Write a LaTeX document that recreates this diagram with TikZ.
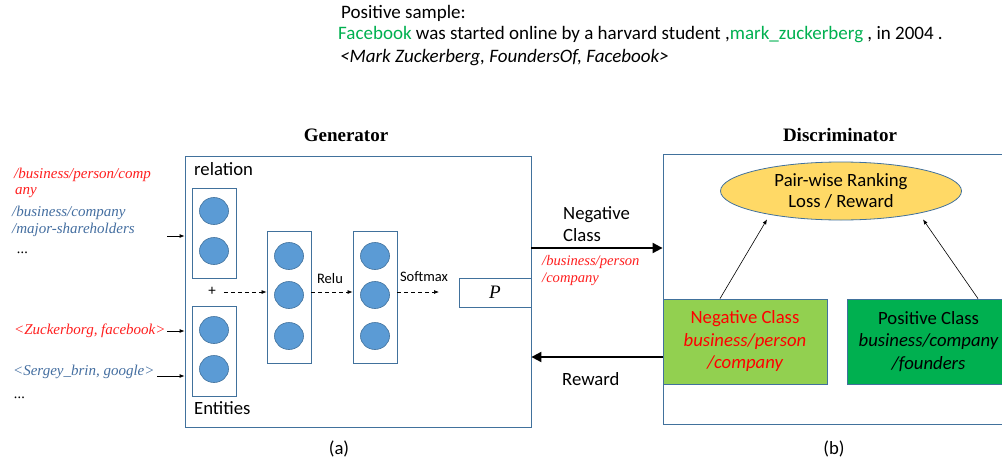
\documentclass[tikz,border=0pt]{standalone}
\usepackage{fontspec}
\setmainfont{Carlito}
\newfontfamily\tms{Liberation Serif}
\usetikzlibrary{arrows.meta,shapes.geometric}
\definecolor{boxline}{RGB}{65,113,156}
\definecolor{circfill}{RGB}{91,155,213}
\definecolor{redtxt}{RGB}{255,30,30}
\definecolor{bluetxt}{RGB}{68,110,160}
\definecolor{greentxt}{RGB}{0,176,80}
\definecolor{ellfill}{RGB}{255,217,102}
\definecolor{negfill}{RGB}{146,208,80}
\definecolor{posfill}{RGB}{0,176,80}
\tikzset{
  box/.style={draw=boxline, line width=0.8pt, rectangle, inner sep=0pt},
  neuron/.style={draw=boxline, fill=circfill, ellipse, minimum width=29pt, minimum height=27pt, inner sep=0pt, line width=0.6pt},
  lbl/.style={inner sep=0pt, anchor=west},
  cal/.style={font=\fontsize{18.7}{22}\selectfont},
  small/.style={font=\fontsize{14.5}{17}\selectfont},
  ital/.style={font=\tms\itshape\fontsize{15}{17}\selectfont},
  ttl/.style={font=\tms\bfseries\fontsize{19}{22}\selectfont, inner sep=0pt},
  inarrow/.style={-{Latex[length=5pt,width=4pt]}, line width=0.8pt},
  dasharrow/.style={dashed, dash pattern=on 4pt off 3pt, -{Latex[length=5pt,width=4pt]}, line width=0.7pt},
  bigarrow/.style={-{Triangle[length=10pt,width=10pt]}, line width=2pt},
  thinarrow/.style={-{Latex[length=5pt,width=4pt]}, line width=0.6pt},
}
\begin{document}
\begin{tikzpicture}[x=1pt,y=-1pt]
\useasboundingbox (0,0) rectangle (1002,461);
\clip (0,0) rectangle (1002,461);
% top text
\node[lbl, font=\fontsize{19}{22}\selectfont] (ps) at (341,13) {Positive sample:};
\node[lbl, font=\fontsize{19}{22}\selectfont] (sent) at (338,35) {\textcolor{greentxt}{Facebook} was started online by a harvard student ,\textcolor{greentxt}{mark\_zuckerberg} , in 2004 .};
\node[lbl, font=\itshape\fontsize{19}{22}\selectfont] (trip) at (340,58) {<Mark Zuckerberg, FoundersOf, Facebook>};
% titles
\node[ttl] (gtitle) at (346,135) {Generator};
\node[ttl] (dtitle) at (840,135) {Discriminator};
% generator
\node[box, minimum width=346pt, minimum height=271pt] (gen) at (358,291.5) {};
\node[lbl, cal] (reltxt) at (194,169) {relation};
\node[lbl, cal] (enttxt) at (194,408) {Entities};
\node[box, minimum width=44pt, minimum height=90pt] (rel) at (214,233) {};
\node[box, minimum width=44pt, minimum height=90pt] (ent) at (214,351) {};
\node[box, minimum width=44pt, minimum height=132pt] (h1) at (289,297) {};
\node[box, minimum width=44pt, minimum height=132pt] (h2) at (375,297) {};
\node[neuron] (r1) at (214,211) {};
\node[neuron] (r2) at (214,251) {};
\node[neuron] (e1) at (214,330) {};
\node[neuron] (e2) at (214,369) {};
\node[neuron] (a1) at (289,256) {};
\node[neuron] (a2) at (289,295) {};
\node[neuron] (a3) at (289,336) {};
\node[neuron] (b1) at (375,256) {};
\node[neuron] (b2) at (375,295) {};
\node[neuron] (b3) at (375,336) {};
\node[inner sep=0pt, font=\fontsize{15}{17}\selectfont] (plus) at (212,291) {+};
\node[small, inner sep=0pt] (relu) at (330,279) {Relu};
\node[small, inner sep=0pt] (soft) at (424,277) {Softmax};
\node[box, minimum width=72pt, minimum height=29pt, font=\tms\itshape\fontsize{19}{22}\selectfont] (P) at (495,292.5) {P};
\coordinate (softend) at (439,292);
\draw[dasharrow] ([xshift=8pt]plus.east |- 0,292) -- (h1.west |- 0,292);
\draw[dasharrow] (h1.east |- 0,292) -- (h2.west |- 0,292);
\draw[dasharrow] (h2.east |- 0,292) -- (softend);
% left inputs
\node[lbl, ital, text=redtxt] (l1) at (14,175) {/business/person/comp};
\node[lbl, ital, text=redtxt] (l2) at (15,193) {any};
\node[lbl, ital, text=bluetxt] (l3) at (12,213) {/business/company};
\node[lbl, ital, text=bluetxt] (l4) at (12,230) {/major-shareholders};
\node[lbl, ital] (l5) at (17,253) {...};
\node[lbl, ital, text=redtxt] (l6) at (14,331) {<Zuckerborg, facebook>};
\node[lbl, ital, text=bluetxt] (l7) at (13,372) {<Sergey\_brin, google>};
\node[lbl, ital] (l8) at (14,398) {...};
\coordinate (i1) at (167,236);
\coordinate (i2) at (167,331);
\coordinate (i3) at (157,376);
\draw[inarrow] (i1) -- (i1 -| gen.west);
\draw[inarrow] (i2) -- (i2 -| gen.west);
\draw[inarrow] (i3) -- (i3 -| gen.west);
% discriminator
\node[box, minimum width=352pt, minimum height=270pt] (disc) at (839,289) {};
\node[draw=boxline, fill=ellfill, ellipse, line width=0.8pt, minimum width=241pt, minimum height=58pt, inner sep=0pt, align=center, font=\fontsize{18.7}{21.5}\selectfont] (loss) at (841,191) {Pair-wise Ranking\\Loss / Reward};
\node[box, fill=negfill, minimum width=164pt, minimum height=85pt, align=center, font=\fontsize{18.7}{22.5}\selectfont, text=red] (neg) at (745,341.5) {Negative Class\\\itshape business/person\\\itshape /company};
\node[box, fill=posfill, minimum width=163pt, minimum height=85pt, align=center, font=\fontsize{18.7}{22.5}\selectfont] (pos) at (928.5,341.5) {Positive Class\\\itshape business/company\\\itshape /founders};
\draw[thinarrow] ([xshift=-25pt]neg.north) -- ([xshift=-74pt,yshift=1pt]loss.south);
\draw[thinarrow] ([xshift=49.5pt]pos.north) -- ([xshift=82pt,yshift=1pt]loss.south);
% connections between gen and disc
\draw[bigarrow] (gen.east |- 0,248) -- (disc.west |- 0,248);
\draw[bigarrow] (disc.west |- 0,357) -- (gen.east |- 0,357);
\node[lbl, cal, align=left] (negcls) at (563,224.5) {Negative\\Class};
\node[lbl, ital, align=left, font=\tms\itshape\fontsize{14.6}{17}\selectfont, text=redtxt] (negrel) at (542,270.5) {/business/person\\/company};
\node[lbl, cal] (rew) at (562,379) {Reward};
% captions
\node[inner sep=0pt, cal] (capa) at (339,449) {(a)};
\node[inner sep=0pt, cal] (capb) at (834,449) {(b)};
\end{tikzpicture}
\end{document}
